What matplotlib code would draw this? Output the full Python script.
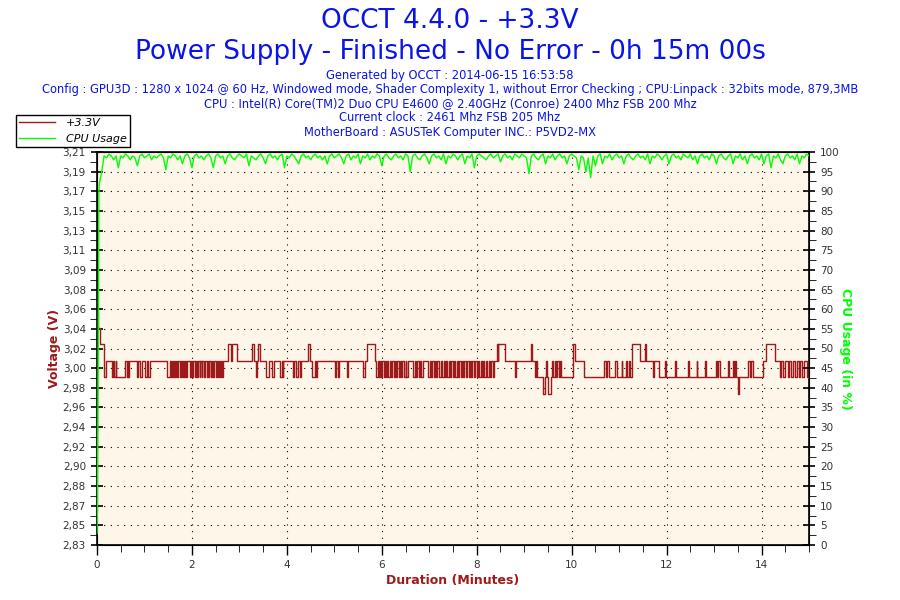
import numpy as np
import matplotlib.pyplot as plt
from matplotlib.lines import Line2D

# +3.3V rail, step changes (minutes, volts)
volt_min = [0.00, 0.03, 0.06, 0.15, 0.19, 0.31, 0.33, 0.35, 0.39, 0.41, 0.59, 0.63, 0.65, 0.66, 0.68,
            0.84, 0.87, 0.91, 0.94, 1.01, 1.05, 1.08, 1.12, 1.47, 1.54,
            1.56, 1.58, 1.60, 1.63, 1.65, 1.66, 1.69, 1.70, 1.74, 1.76, 1.80, 1.81, 1.83, 1.85, 1.87, 1.89,
            1.96, 1.97, 2.01, 2.02,
            2.06, 2.08, 2.11, 2.12, 2.16, 2.18, 2.21, 2.22, 2.25, 2.28, 2.31, 2.33, 2.36, 2.37, 2.40, 2.43,
            2.45, 2.46, 2.50, 2.52, 2.55, 2.57, 2.60, 2.61, 2.64, 2.66,
            2.76, 2.82, 2.84, 2.94, 3.26, 3.30, 3.36, 3.38, 3.39, 3.43, 3.57, 3.62, 3.68, 3.72,
            3.85, 3.89, 3.91, 3.92, 4.13, 4.16, 4.19, 4.24, 4.27, 4.30, 4.45, 4.48,
            4.52, 4.59, 4.61, 4.64, 5.01, 5.04, 5.07, 5.10, 5.26, 5.29, 5.61, 5.64, 5.68, 5.85, 5.88,
            5.92, 5.94, 5.96, 5.99, 6.01, 6.04, 6.06, 6.09, 6.11, 6.14, 6.17, 6.20, 6.22, 6.25, 6.27, 6.30,
            6.33, 6.36, 6.38, 6.41, 6.43, 6.47, 6.50, 6.52, 6.55, 6.66, 6.69, 6.72, 6.74, 6.78, 6.80, 6.83,
            6.87, 6.98, 7.01, 7.04, 7.06, 7.09, 7.12, 7.15, 7.17, 7.21, 7.24, 7.27, 7.30, 7.33, 7.35, 7.38,
            7.41, 7.44, 7.46, 7.49, 7.52, 7.55, 7.58, 7.60, 7.63, 7.66, 7.69, 7.72, 7.74, 7.77, 7.80, 7.83,
            7.86, 7.88, 7.91, 7.94, 7.97, 8.00, 8.02, 8.05, 8.08, 8.11, 8.13, 8.16, 8.19, 8.22, 8.25, 8.28,
            8.31, 8.34, 8.37, 8.42, 8.44, 8.45, 8.59, 8.80, 8.82, 9.14, 9.17, 9.22, 9.25, 9.27,
            9.40, 9.43, 9.45, 9.47, 9.50, 9.56, 9.58, 9.61, 9.64, 9.67, 9.70, 9.73, 9.75, 9.78,
            10.03, 10.06, 10.27, 10.69, 10.72, 10.75, 10.78, 10.92, 10.96,
            11.05, 11.07, 11.15, 11.17, 11.21, 11.23, 11.28, 11.44, 11.54, 11.57, 11.71, 11.73,
            11.85, 11.96, 11.99, 12.17, 12.19, 12.45, 12.47, 12.63, 12.65, 12.80, 12.82,
            13.05, 13.07, 13.09, 13.12, 13.29, 13.31, 13.40, 13.43, 13.45, 13.47, 13.50, 13.52,
            13.71, 13.75, 13.78, 13.82, 14.03, 14.10, 14.28,
            14.38, 14.42, 14.45, 14.50, 14.55, 14.58, 14.62, 14.66, 14.70, 14.74, 14.78, 14.82, 14.86,
            14.90, 14.95, 15.00]
U, L, H, D = 3.008, 2.992, 3.024, 2.976
volt_val = [3.056, 3.040, H, L, U, L, U, L, U, L, U, L, U, L, U,
            L, U, L, U, L, U, L, U, L, U,
            L, U, L, U, L, U, L, U, L, U, L, U, L, U, L, U,
            L, U, L, U,
            L, U, L, U, L, U, L, U, L, U, L, U, L, U, L, U,
            L, U, L, U, L, U, L, U, L, U,
            H, U, H, U, H, U, L, U, H, U, L, U, L, U,
            L, U, L, U, L, U, L, U, L, U, H, U,
            L, U, L, U, L, U, L, U, L, U, L, U, H, U, L,
            U, L, U, L, U, L, U, L, U, L, U, L, U, L, U, L,
            U, L, U, L, U, L, U, L, U, L, U, L, U, L, U, L,
            U, L, U, L, U, L, U, L, U, L, U, L, U, L, U, L,
            U, L, U, L, U, L, U, L, U, L, U, L, U, L, U, L,
            U, L, U, L, U, L, U, L, U, L, U, L, U, L, U, L,
            U, L, U, H, U, H, U, L, U, H, U, L, U, L,
            D, L, U, L, D, L, U, L, U, L, U, L, U, L,
            H, U, L, U, L, U, L, U, L,
            U, L, U, L, U, L, H, U, H, U, L, U,
            L, U, L, U, L, U, L, U, L, U, L,
            U, L, U, L, U, L, U, L, U, L, D, L,
            U, L, U, L, U, H, U,
            L, U, L, U, L, U, L, U, L, U, L, U, L,
            U, L, L]

# CPU usage (%): start-up ramp, then one reading every 0.05 min (one row per minute)
cpu_ramp_min = [0.0, 0.01, 0.03, 0.04]
cpu_ramp_val = [3, 10, 60, 90]
cpu_val = [
    92, 95, 99, 98.5, 99.5, 99, 98, 99, 96, 99, 98.5, 99.5, 99, 98, 99, 98.5, 96.5, 99, 99.5, 98.5,
    99, 99.5, 98, 99, 98.5, 99, 99.5, 98.5, 95.5, 99, 98.5, 99.5, 99, 98, 99, 97, 99, 99.5, 98.5, 96,
    99, 99.5, 98.5, 99, 98, 99, 99.5, 98.5, 96, 99, 99.5, 98.5, 99, 97, 99, 99.5, 98.5, 98, 99, 99.5,
    99, 98.5, 99.5, 96.5, 99, 98.5, 98, 99, 99.5, 98.5, 97, 99, 99.5, 98.5, 99, 98, 99, 99.5, 96, 99,
    98.5, 99.5, 99, 98, 97, 99, 99.5, 98.5, 99, 98, 99, 99.5, 98.5, 99, 98, 99, 97, 99, 99.5, 98.5,
    99, 99.5, 98.5, 97, 99, 99.5, 98, 99, 98.5, 99.5, 97, 99, 98.5, 99.5, 98, 99, 98.5, 99.5, 99, 96.5,
    99, 99.5, 98.5, 98, 99, 99.5, 98.5, 99, 98, 99.5, 99, 95, 99, 99.5, 98.5, 98, 99, 99.5, 98.5, 97,
    99, 99.5, 98.5, 99, 98, 99.5, 97, 99, 98.5, 99.5, 99, 98, 99, 99.5, 97, 99, 98.5, 99.5, 96, 99,
    99.5, 99, 98.5, 98, 99, 99.5, 98.5, 99, 99.5, 97.5, 99, 99.5, 98.5, 99, 98, 99.5, 99, 98.5, 99.5, 99,
    98.5, 94.5, 99, 99.5, 98.5, 98, 99, 99.5, 97, 99, 98.5, 99.5, 98, 99, 99.5, 98.5, 99, 97, 99, 99.5,
    99, 98.5, 95.5, 99, 98.5, 95, 98.5, 93.5, 99, 96.5, 99, 99.5, 97, 99, 98.5, 99.5, 98, 99, 99.5, 98.5,
    99, 97, 99, 99.5, 98.5, 98, 99, 99.5, 98.5, 99, 98, 99.5, 97, 99, 98.5, 99.5, 99, 98, 99, 99.5,
    97, 99, 99.5, 98.5, 99, 98, 99.5, 99, 98.5, 99.5, 98, 99, 97, 99, 99.5, 98.5, 99, 98, 99.5, 99,
    97, 99, 99.5, 98.5, 98, 99, 99.5, 97, 99, 98.5, 99.5, 98, 99, 97, 99, 99.5, 98.5, 99, 98, 99.5,
    97, 99, 99.5, 96, 99, 98.5, 99.5, 98, 97, 99, 99.5, 98.5, 99, 98, 99.5, 97, 99, 98.5, 99.5, 99]
cpu_min = cpu_ramp_min + [round(0.05 * (i + 1), 2) for i in range(len(cpu_val))]
cpu_all = cpu_ramp_val + cpu_val

volt_labels = ['2,83', '2,85', '2,87', '2,88', '2,90', '2,92', '2,94', '2,96', '2,98', '3,00', '3,02',
               '3,04', '3,06', '3,08', '3,09', '3,11', '3,13', '3,15', '3,17', '3,19', '3,21']

red = '#9E1A1A'
green = '#00FF00'
blue = '#0A14E6'
tick_col = '#333333'

fig = plt.figure(figsize=(9, 6), dpi=100)
ax = fig.add_axes([97 / 900, 55 / 600, 712 / 900, 393 / 600])
ax.set_facecolor('#FDF6E9')

ax.plot(volt_min, volt_val, color=red, lw=1.0, drawstyle='steps-post', zorder=3)
ax.set_xlim(0, 15)
ax.set_ylim(2.83, 3.21)
ax.set_yticks(np.linspace(2.83, 3.21, 21))
ax.set_yticklabels(volt_labels)
ax.set_yticks(np.linspace(2.83, 3.21, 41), minor=True)
ax.set_xticks(np.arange(0, 15, 2))
ax.set_xticks(np.arange(0, 15.01, 0.5), minor=True)
ax.grid(True, which='major', color='black', linestyle=(0, (1, 5)), lw=0.8)
ax.tick_params(axis='y', which='major', direction='inout', length=9, width=1.2, colors='black',
               labelcolor=tick_col, labelsize=7.5)
ax.tick_params(axis='y', which='minor', direction='out', length=5, color='black')
ax.tick_params(axis='x', which='major', direction='out', length=7, width=1, labelcolor=tick_col, labelsize=7.5)
ax.tick_params(axis='x', which='minor', direction='out', length=5)
for s in ax.spines.values():
    s.set_color('black')
    s.set_linewidth(1.2)
ax.set_ylabel('Voltage (V)', color=red, fontsize=9, fontweight='bold', labelpad=1)
ax.set_xlabel('Duration (Minutes)', color=red, fontsize=9, fontweight='bold', labelpad=3)

ax2 = ax.twinx()
ax2.plot(cpu_min, cpu_all, color=green, lw=1.0, zorder=4)
ax2.set_ylim(0, 100)
ax2.set_yticks(np.arange(0, 101, 5))
ax2.set_yticks(np.arange(0, 101, 2.5), minor=True)
ax2.tick_params(axis='y', which='major', direction='inout', length=9, width=1.2, labelcolor=tick_col,
                labelsize=7.5)
ax2.tick_params(axis='y', which='minor', direction='out', length=5)
ax2.set_ylabel('CPU Usage (in %)', color=green, fontsize=9, fontweight='bold', rotation=270, labelpad=9)

# titles
fig.text(0.5, 0.965, 'OCCT 4.4.0 - +3.3V', ha='center', va='center', fontsize=19, color=blue)
fig.text(0.5, 0.913, 'Power Supply - Finished - No Error - 0h 15m 00s', ha='center', va='center',
         fontsize=19, color=blue)
info = ['Generated by OCCT : 2014-06-15 16:53:58',
        'Config : GPU3D : 1280 x 1024 @ 60 Hz, Windowed mode, Shader Complexity 1, without Error Checking ; '
        'CPU:Linpack : 32bits mode, 879,3MB',
        'CPU : Intel(R) Core(TM)2 Duo CPU E4600 @ 2.40GHz (Conroe) 2400 Mhz FSB 200 Mhz',
        'Current clock : 2461 Mhz FSB 205 Mhz',
        'MotherBoard : ASUSTeK Computer INC.: P5VD2-MX']
for i, line in enumerate(info):
    fig.text(0.5, (600 - 75 - 14.3 * i) / 600, line, ha='center', va='center', fontsize=8.3, color=blue)

handles = [Line2D([], [], color=red, lw=1), Line2D([], [], color=green, lw=1)]
leg = fig.legend(handles, ['+3.3V', 'CPU Usage'], loc='upper left', bbox_to_anchor=(16 / 900, 1 - 115 / 600),
                 prop={'size': 8, 'style': 'italic'}, fancybox=False, edgecolor='black', framealpha=1,
                 borderpad=0.3, labelspacing=0.5, handlelength=3.2, handletextpad=1.0, borderaxespad=0)
leg.get_frame().set_linewidth(1)

fig.savefig('out.png', dpi=100)
